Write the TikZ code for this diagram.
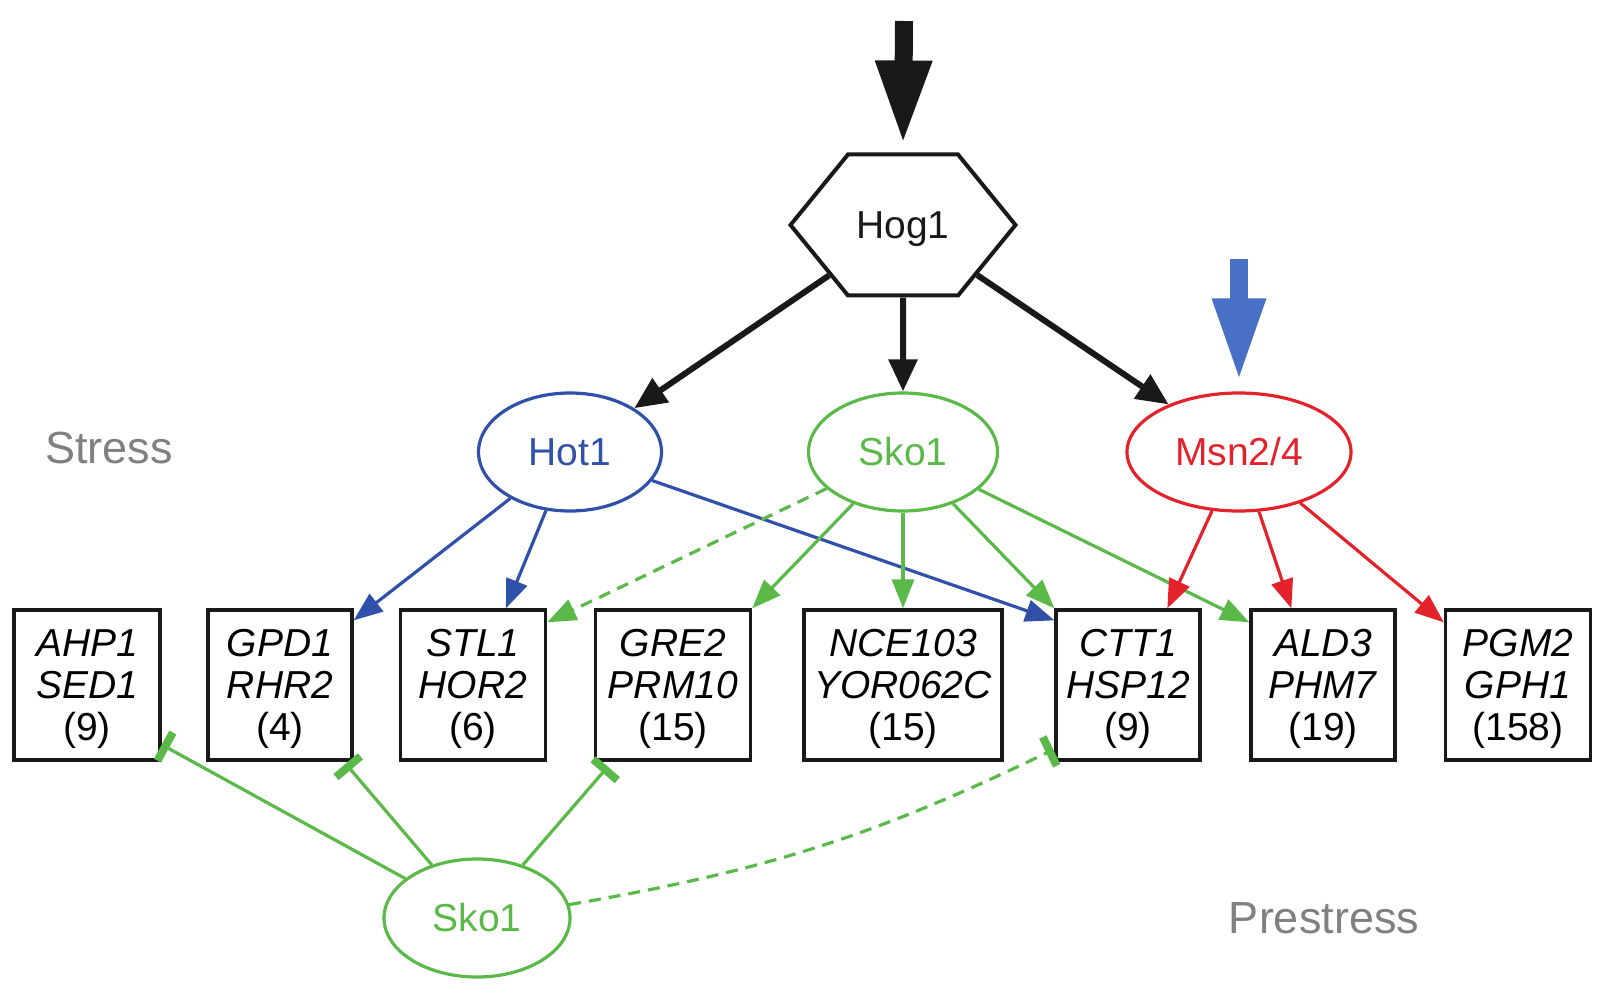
\documentclass[tikz,border=0pt]{standalone}
\usepackage{fontspec}
\setmainfont{Liberation Sans}
\usetikzlibrary{arrows.meta,shapes.geometric,shapes.symbols,calc}
\definecolor{hblue}{RGB}{48,80,170}
\definecolor{ablue}{RGB}{72,112,196}
\definecolor{sgreen}{RGB}{90,185,72}
\definecolor{mred}{RGB}{227,34,44}
\definecolor{lgray}{RGB}{128,128,128}
\definecolor{dk}{RGB}{25,25,25}
\begin{document}
\begin{tikzpicture}[x=1pt,y=-1pt,
  every node/.style={font=\fontsize{39}{42}\selectfont},
  gene/.style={draw=dk, line width=3.3pt, minimum width=#1, minimum height=150pt, align=center, inner sep=0pt, text depth=0pt},
  tf/.style={ellipse, draw=#1, line width=3.2pt, text=#1, minimum height=118pt, inner sep=0pt},
  act/.style={line width=3.2pt, -{Triangle[length=29pt,width=22pt]}},
  inh/.style={line width=3.2pt, -{Rectangle[length=8pt,width=32pt]}},
  bigarr/.style={dk, line width=6pt, -{Triangle[length=32pt,width=28pt]}},
  dsh/.style={dash pattern=on 12pt off 8pt},
  lbl/.style={text=lgray, font=\fontsize{45}{50}\selectfont}
]
\useasboundingbox (0,0) rectangle (1622,1000);

% hexagon
\node[signal, signal to=west and east, signal pointer angle=101.6, draw=dk, line width=4pt,
      minimum width=225pt, minimum height=141pt, inner sep=0pt, text=dk, text depth=0pt] (hog) at (903,225) {Hog1};

% transcription factors
\node[tf=hblue, minimum width=183pt] (hot1) at (570,452) {Hot1};
\node[tf=sgreen, minimum width=189pt] (sko1) at (903,452) {Sko1};
\node[tf=mred, minimum width=224pt] (msn) at (1239,452) {Msn2/4};
\node[tf=sgreen, minimum width=186pt] (sko1b) at (477,918) {Sko1};

% gene boxes
\node[gene=146pt] (ahp) at (87,685) {\textit{AHP1}\\\textit{SED1}\\(9)};
\node[gene=144pt] (gpd) at (280,685) {\textit{GPD1}\\\textit{RHR2}\\(4)};
\node[gene=145pt] (stl) at (473,685) {\textit{STL1}\\\textit{HOR2}\\(6)};
\node[gene=155pt] (gre) at (673,685) {\textit{GRE2}\\\textit{PRM10}\\(15)};
\node[gene=198pt] (nce) at (903,685) {\textit{NCE103}\\\textit{YOR062C}\\(15)};
\node[gene=144pt] (ctt) at (1128,685) {\textit{CTT1}\\\textit{HSP12}\\(9)};
\node[gene=144pt] (ald) at (1323,685) {\textit{ALD3}\\\textit{PHM7}\\(19)};
\node[gene=145pt] (pgm) at (1518,685) {\textit{PGM2}\\\textit{GPH1}\\(158)};

% labels
\node[lbl] (stress) at (109,448) {Stress};
\node[lbl] (prestress) at (1324,918) {Prestress};

% input arrows
\coordinate (topin) at (904,21);
\coordinate (bluein) at (1239,259);
\draw[dk, line width=18pt, -{Triangle[length=84pt,width=52pt]}, shorten >=8pt] (topin) -- (hog.north);
\draw[ablue, line width=17.6pt, -{Triangle[length=83pt,width=49pt]}, shorten >=10pt] (bluein) -- (msn.north);

% Hog1 edges
\draw[bigarr] (hog) -- (hot1);
\draw[bigarr] (hog) -- (sko1);
\draw[bigarr] (hog) -- (msn);

% Hot1 edges
\draw[act, hblue] (hot1) -- ($(gpd.north east)+(0,12)$);
\draw[act, hblue] (hot1) -- ($(stl.north west)+(107,0)$);
\draw[act, hblue] (hot1) -- ($(ctt.north west)+(0,12)$);

% Sko1 edges
\draw[act, sgreen, dsh] (sko1) -- ($(stl.north east)+(0,14)$);
\draw[act, sgreen] (sko1) -- (gre.north east);
\draw[act, sgreen] (sko1) -- (nce.north);
\draw[act, sgreen] (sko1) -- (ctt.north west);
\draw[act, sgreen] (sko1) -- ($(ald.north west)+(0,14)$);

% Msn2/4 edges
\draw[act, mred] (msn) -- ($(ctt.north west)+(113,0)$);
\draw[act, mred] (msn) -- ($(ald.north west)+(42,0)$);
\draw[act, mred] (msn) -- ($(pgm.north west)+(0,14)$);

% prestress Sko1 repression
\draw[inh, sgreen] (sko1b) -- ($(ahp.south east)+(0,-17)$);
\draw[inh, sgreen] (sko1b) -- ($(gpd.south east)+(-8,2)$);
\draw[inh, sgreen] (sko1b) -- ($(gre.south west)+(14,5)$);
\draw[inh, sgreen, dsh] (sko1b) to[bend right=8] ($(ctt.south west)+(-1,-12)$);
\end{tikzpicture}
\end{document}
